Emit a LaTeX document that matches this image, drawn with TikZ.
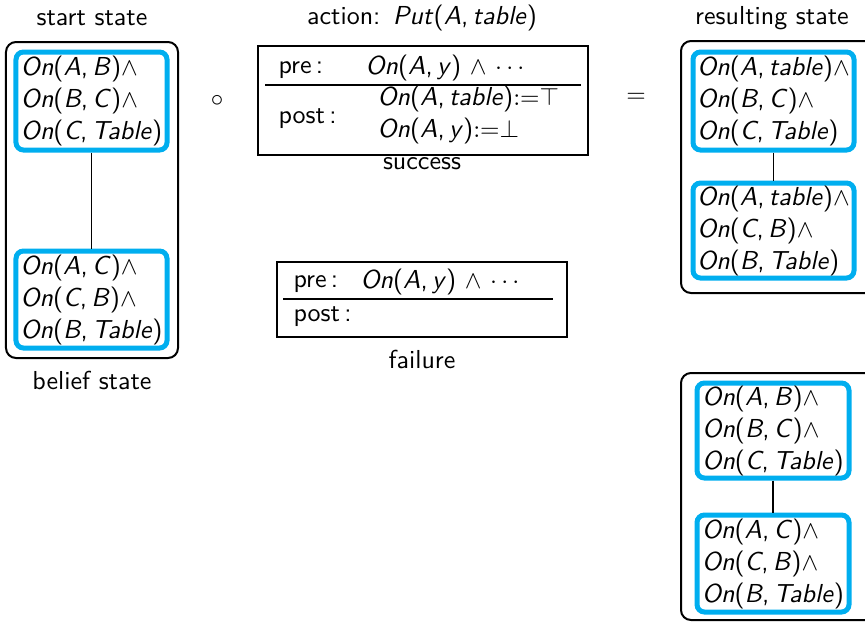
\documentclass[tikz,border=0pt]{standalone}
\usepackage{fontspec}
\definecolor{cblue}{RGB}{0,174,239}
\newcommand\pOn[2]{\textit{On}(\textit{#1},\,\textit{#2})}
\begin{document}
\begin{tikzpicture}[x=0.4pt,y=-0.4pt,
  every node/.style={font=\sffamily\fontsize{10.4}{12.8}\selectfont, inner sep=0pt},
  outerbox/.style={draw, line width=0.8pt, rounded corners=4pt},
  bluebox/.style={draw=cblue, line width=2pt, rounded corners=3pt, align=left, inner sep=0pt},
  actbox/.style={draw, line width=0.6pt},
  link/.style={line width=0.6pt},
  rule/.style={line width=0.6pt}]
\useasboundingbox (0,0) rectangle (865,622);
\clip (0,0) rectangle (865,622);

% ---- start state ----
\node (lstart) at (92,18) {start state};
\node[outerbox, minimum width=68.8pt, minimum height=126.4pt] (L) at (92,200) {};
\node[bluebox, minimum width=60.4pt, minimum height=39.2pt] (L1) at (91.5,101)
  {\pOn{A}{B}$\wedge$\\ \pOn{B}{C}$\wedge$\\ \pOn{C}{Table}};
\node[bluebox, minimum width=60.4pt, minimum height=38.8pt] (L2) at (91.5,299.5)
  {\pOn{A}{C}$\wedge$\\ \pOn{C}{B}$\wedge$\\ \pOn{B}{Table}};
\draw[link] (L1) -- (L2);
\node (lbelief) at (92,380) {belief state};

% ---- operator ----
\node (circ) at (217,101) {$\circ$};
\node (eq) at (636,98) {$=$};

% ---- action ----
\node (lact) at (422,18) {action:\hspace{5pt}\textit{Put}(\textit{A},\,\textit{table})};
\node[actbox, minimum width=132pt, minimum height=43.6pt] (succ) at (423,100.5) {};
\coordinate (s1) at (265,85);
\coordinate (s2) at (581,85);
\draw[rule] (s1) -- (s2);
\node[anchor=west] (spre) at (278,70) {pre\,:};
\node[anchor=west] (sprecond) at (365,68) {\pOn{A}{y} $\wedge$ $\cdots$};
\node[anchor=west] (spost) at (278,119) {post\,:};
\node[anchor=west] (seff1) at (377,99) {\pOn{A}{table}${:}{=}{\top}$};
\node[anchor=west] (seff2) at (377,131) {\pOn{A}{y}${:}{=}{\bot}$};
\node (lsucc) at (422,164) {success};

\node[actbox, minimum width=116pt, minimum height=30pt] (fail) at (422,299.5) {};
\coordinate (f1) at (283,299);
\coordinate (f2) at (553,299);
\draw[rule] (f1) -- (f2);
\node[anchor=west] (fpre) at (293,284) {pre\,:};
\node[anchor=west] (fprecond) at (360,282) {\pOn{A}{y} $\wedge$ $\cdots$};
\node[anchor=west] (fpost) at (293,317) {post\,:};
\node (lfail) at (422,359) {failure};

% ---- resulting state ----
\node (lres) at (772,18) {resulting state};
\node[outerbox, minimum width=77.6pt, minimum height=100.8pt] (R) at (778,167) {};
\node[bluebox, minimum width=64.4pt, minimum height=39.2pt] (R1) at (773.5,101)
  {\pOn{A}{table}$\wedge$\\ \pOn{B}{C}$\wedge$\\ \pOn{C}{Table}};
\node[bluebox, minimum width=64.4pt, minimum height=38pt] (R2) at (773.5,230.5)
  {\pOn{A}{table}$\wedge$\\ \pOn{C}{B}$\wedge$\\ \pOn{B}{Table}};
\draw[link] (R1) -- (R2);

\node[outerbox, minimum width=77.6pt, minimum height=98.8pt] (S) at (778,496.5) {};
\node[bluebox, minimum width=60.8pt, minimum height=38pt] (S1) at (773,430.5)
  {\pOn{A}{B}$\wedge$\\ \pOn{B}{C}$\wedge$\\ \pOn{C}{Table}};
\node[bluebox, minimum width=60.8pt, minimum height=38.8pt] (S2) at (773,563.5)
  {\pOn{A}{C}$\wedge$\\ \pOn{C}{B}$\wedge$\\ \pOn{B}{Table}};
\draw[link] (S1) -- (S2);
\end{tikzpicture}
\end{document}
